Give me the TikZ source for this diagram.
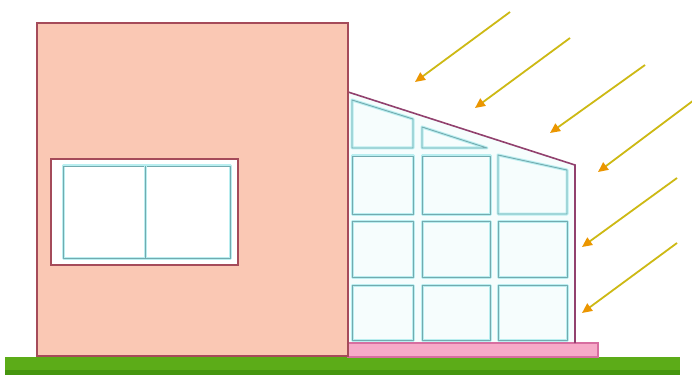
\documentclass[tikz,border=0pt]{standalone}
\usetikzlibrary{arrows.meta}
\begin{document}
\definecolor{wallfill}{RGB}{250,200,180}
\definecolor{wallline}{RGB}{165,75,90}
\definecolor{roofline}{RGB}{145,65,110}
\definecolor{panehalo}{RGB}{185,238,240}
\definecolor{pane}{RGB}{115,170,175}
\definecolor{glass}{RGB}{246,253,253}
\definecolor{basefill}{RGB}{246,170,200}
\definecolor{baseline}{RGB}{215,110,160}
\definecolor{grass}{RGB}{92,172,24}
\definecolor{grassdark}{RGB}{70,150,15}
\definecolor{ray}{RGB}{205,185,20}
\definecolor{rayhead}{RGB}{235,150,0}
\begin{tikzpicture}[x=1pt,y=-1pt,
  panebox/.style={draw=panehalo,line width=3pt,line join=round,
    postaction={draw=pane,line width=0.9pt}},
  sunray/.style={draw=ray,line width=1.8pt,
    -{Triangle[length=10pt,width=9pt,fill=rayhead,color=rayhead]}}]
\useasboundingbox (0,0) rectangle (692,379);
\fill[white] (0,0) rectangle (692,379);

% ground strip
\fill[grass] (5,357) rectangle (680,375);
\fill[grassdark] (5,370) rectangle (680,375);

% greenhouse glass
\fill[glass] (348,92) -- (575,165) -- (575,343) -- (348,343) -- cycle;

% greenhouse base
\filldraw[fill=basefill,draw=baseline,line width=1.2pt] (348,343) rectangle (598,357);

% greenhouse glazing panes
\draw[panebox] (352,100) -- (413,119) -- (413,148) -- (352,148) -- cycle;
\draw[panebox] (422,127) -- (487,148) -- (422,148) -- cycle;
\draw[panebox] (352,156) rectangle (413,214);
\draw[panebox] (422,156) rectangle (490,214);
\draw[panebox] (498,155) -- (567,170) -- (567,214) -- (498,214) -- cycle;
\foreach \xa/\xb in {352/413, 422/490, 498/567}{
  \draw[panebox] (\xa,221) rectangle (\xb,277);
  \draw[panebox] (\xa,285) rectangle (\xb,340);
}

% greenhouse frame
\draw[roofline,line width=1.6pt,line join=miter] (348,92) -- (575,165) -- (575,343);

% main wall
\filldraw[fill=wallfill,draw=wallline,line width=1.6pt] (37,23) rectangle (348,356);

% wall window
\filldraw[fill=white,draw=wallline,line width=1.6pt] (51,159) rectangle (238,265);
\draw[panebox] (63,166) rectangle (230,258);
\draw[panebox] (145,166) -- (145,258);

% sun rays
\coordinate (r1a) at (510,12);  \coordinate (r1b) at (415,82);
\coordinate (r2a) at (570,38);  \coordinate (r2b) at (475,108);
\coordinate (r3a) at (645,65);  \coordinate (r3b) at (550,133);
\coordinate (r4a) at (694,100); \coordinate (r4b) at (598,172);
\coordinate (r5a) at (677,178); \coordinate (r5b) at (582,247);
\coordinate (r6a) at (677,243); \coordinate (r6b) at (582,313);
\foreach \r in {1,...,6}{
  \draw[sunray] (r\r a) -- (r\r b);
}
\end{tikzpicture}
\end{document}
